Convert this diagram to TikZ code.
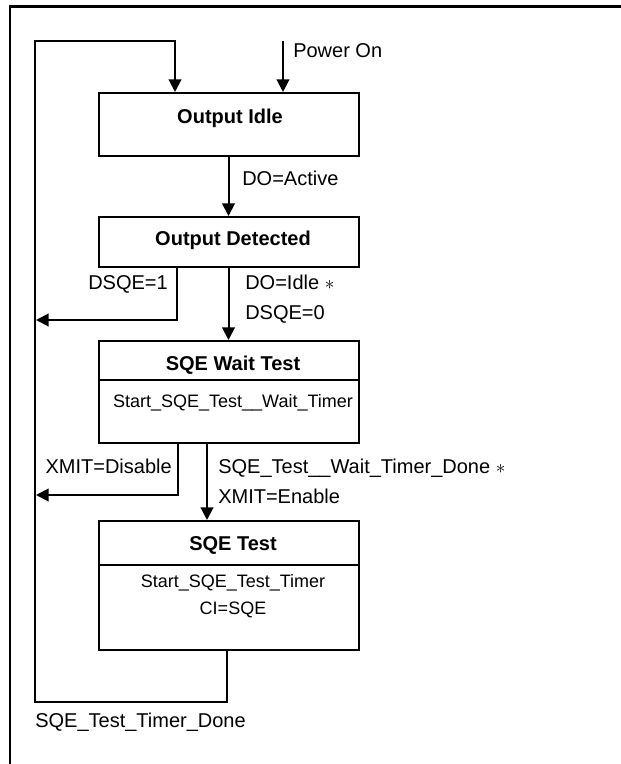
\documentclass[tikz,border=0pt]{standalone}
\usepackage{fontspec}
\setmainfont{Liberation Sans}
\usetikzlibrary{arrows.meta}
\begin{document}
\begin{tikzpicture}[x=0.75pt,y=-0.75pt,
  statebox/.style={draw,line width=1.5pt,minimum width=195pt,inner sep=0pt},
  conn/.style={line width=1.5pt},
  arr/.style={conn,-{Triangle[width=9.5pt,length=9.5pt]}},
  lbl/.style={inner sep=0pt,font=\fontsize{15}{18}\selectfont},
  ttl/.style={inner sep=0pt,font=\bfseries\fontsize{15}{18}\selectfont},
  body/.style={inner sep=0pt,font=\fontsize{13.5}{16}\selectfont}]
\useasboundingbox (0,0) rectangle (621,764);
\fill[white] (0,0) rectangle (621,764);
\draw[line width=1.9pt] (10,770) -- (10,6.5) -- (630,6.5);

% state boxes
\node[statebox,minimum height=47.25pt] (idle) at (228.5,124.5) {};
\node[statebox,minimum height=37.5pt] (det) at (228.5,242) {};
\node[statebox,minimum height=76.5pt] (wait) at (228.5,392) {};
\node[statebox,minimum height=96.75pt] (test) at (228.5,585.5) {};

% titles and bodies
\node[ttl,anchor=base] (idleT) at (230,123) {Output Idle};
\node[ttl,anchor=base] (detT) at (233,245) {Output Detected};
\node[ttl,anchor=base] (waitT) at (233,370) {SQE Wait Test};
\node[body,anchor=base] (waitB) at (233,407) {Start\_SQE\_Test\_\_Wait\_Timer};
\node[ttl,anchor=base] (testT) at (233,550) {SQE Test};
\node[body,anchor=base] (testB1) at (233,587) {Start\_SQE\_Test\_Timer};
\node[body,anchor=base] (testB2) at (233,614) {CI=SQE};

% dividers
\coordinate (wdiv) at (0,380);
\draw[conn] (wait.west |- wdiv) -- (wait.east |- wdiv);
\coordinate (tdiv) at (0,565);
\draw[conn] (test.west |- tdiv) -- (test.east |- tdiv);

% helper coordinates
\coordinate (loopTL) at (35,41);
\coordinate (inX) at (175,0);
\coordinate (pwr) at (283,41);
\coordinate (b1x) at (177,0);
\coordinate (b1) at (36,320);
\coordinate (b2x) at (178,0);
\coordinate (b2) at (36,495);
\coordinate (mx) at (207,0);
\coordinate (ex) at (227,0);
\coordinate (loopBL) at (35,702);

% connectors
\draw[arr] (pwr) -- (pwr |- idle.north);
\node[lbl,anchor=base west] (pwrL) at (293,57) {Power On};

\draw[arr] (idle.south) -- (det.north);
\node[lbl,anchor=base west] (daL) at (242,185) {DO=Active};

\draw[arr] (det.south -| b1x) |- (b1);
\node[lbl,anchor=base east] (d1L) at (168,289) {DSQE=1};

\draw[arr] (det.south) -- (wait.north);
\node[lbl,anchor=base west] (diL) at (245,289) {DO=Idle $\ast$};
\node[lbl,anchor=base west] (d0L) at (245,319) {DSQE=0};

\draw[arr] (wait.south -| b2x) |- (b2);
\node[lbl,anchor=base east] (xdL) at (172,473) {XMIT=Disable};

\draw[arr] (wait.south -| mx) -- (test.north -| mx);
\node[lbl,anchor=base west] (wdL) at (218,473) {SQE\_Test\_\_Wait\_Timer\_Done $\ast$};
\node[lbl,anchor=base west] (xeL) at (218,503) {XMIT=Enable};

\draw[arr] (test.south -| ex) |- (loopBL) -- (loopTL) -| (idle.north -| inX);
\node[lbl,anchor=base west] (tdL) at (35,727) {SQE\_Test\_Timer\_Done};
\end{tikzpicture}
\end{document}
